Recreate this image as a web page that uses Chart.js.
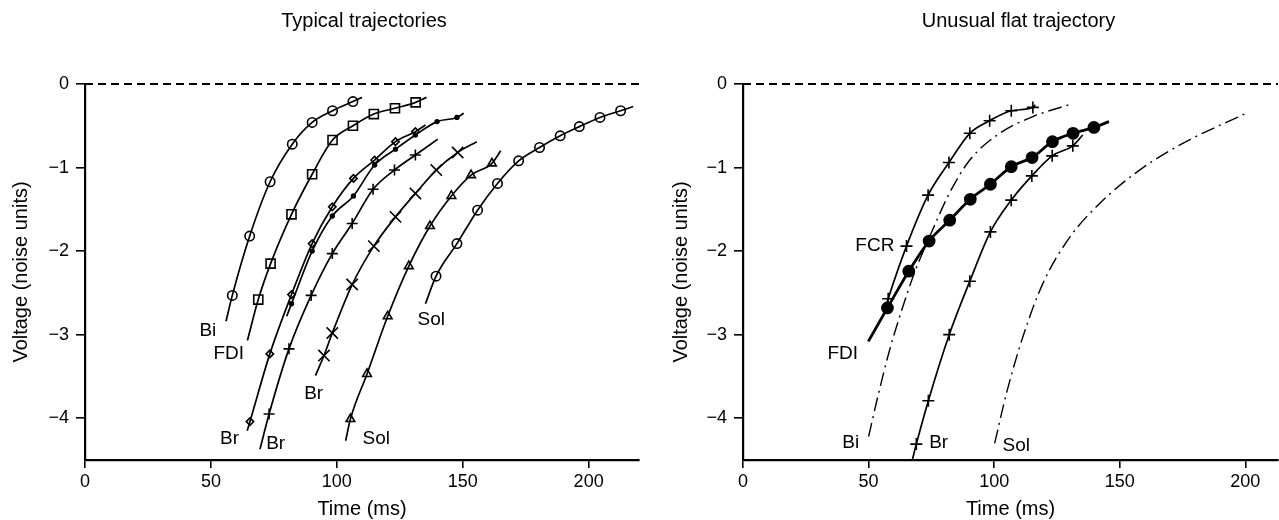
<!DOCTYPE html>
<html><head><meta charset="utf-8">
<script src="https://cdn.jsdelivr.net/npm/chart.js@4/dist/chart.umd.min.js"></script>
<style>
html,body{margin:0;padding:0;background:#fff;}
#wrap{position:relative;width:1279px;height:520px;background:#fff;}
#c1{position:absolute;left:0;top:0;}
#c2{position:absolute;left:640px;top:0;}
</style></head><body>
<div id="wrap"><canvas id="c1" width="640" height="520"></canvas><canvas id="c2" width="639" height="520"></canvas></div>
<script>
// ---------- DATA (first and last entries of each series are the ends of the fitted curve, without a marker) ----------
// Left panel: "Typical trajectories"
const leftTitle = 'Typical trajectories';
const biT   = [56.0, 58.5, 65.4, 73.5, 82.3, 90.2, 98.3, 106.4, 110.0];
const biV   = [-2.84, -2.53, -1.82, -1.17, -0.72, -0.46, -0.32, -0.21, -0.16];
const fdiT  = [64.5, 68.8, 73.7, 82.0, 90.2, 98.3, 106.4, 114.7, 123.1, 131.3, 135.6];
const fdiV  = [-3.07, -2.58, -2.15, -1.56, -1.08, -0.67, -0.50, -0.36, -0.29, -0.22, -0.16];
const brDiaT = [64.4, 65.5, 73.4, 82.0, 90.2, 98.2, 106.6, 115.0, 123.3, 131.2, 135.2];
const brDiaV = [-4.15, -4.04, -3.23, -2.52, -1.91, -1.47, -1.13, -0.91, -0.69, -0.57, -0.49];
const brDotT = [80.1, 82.0, 90.2, 98.2, 106.6, 115.0, 123.3, 131.2, 139.8, 147.7, 150.4];
const brDotV = [-2.78, -2.63, -2.00, -1.58, -1.34, -0.97, -0.78, -0.61, -0.45, -0.40, -0.35];
const brPlusT = [69.5, 73.1, 81.0, 89.8, 98.2, 106.1, 114.4, 122.9, 131.2, 140.1];
const brPlusV = [-4.37, -3.95, -3.17, -2.53, -2.03, -1.67, -1.26, -1.03, -0.85, -0.66];
const brXT  = [91.5, 94.9, 98.2, 106.1, 114.7, 123.3, 131.2, 139.5, 148.0, 155.6];
const brXV  = [-3.49, -3.25, -2.98, -2.40, -1.94, -1.59, -1.31, -1.03, -0.82, -0.69];
const solTriT = [103.5, 105.4, 112.0, 120.2, 128.6, 137.0, 145.5, 153.3, 161.6, 165.1];
const solTriV = [-4.27, -4.01, -3.47, -2.78, -2.18, -1.70, -1.34, -1.09, -0.95, -0.80];
const solCirT = [135.2, 139.4, 147.7, 155.9, 163.8, 172.2, 180.5, 188.7, 196.3, 204.5, 212.7, 217.7];
const solCirV = [-2.63, -2.30, -1.91, -1.51, -1.19, -0.92, -0.76, -0.62, -0.51, -0.40, -0.32, -0.27];
const leftLabelText = ['Bi', 'FDI', 'Br', 'Br', 'Br', 'Sol', 'Sol'];
const leftLabelT    = [48.8, 57.1, 57.4, 75.7, 90.8, 115.7, 137.5];
const leftLabelV    = [-2.95, -3.23, -4.25, -4.31, -3.71, -4.25, -2.82];

// Right panel: "Unusual flat trajectory"
const rightTitle = 'Unusual flat trajectory';
const fcrT  = [56.0, 57.8, 65.1, 73.7, 82.0, 90.3, 98.2, 106.8, 115.4, 116.4];
const fcrV  = [-2.75, -2.57, -1.94, -1.33, -0.94, -0.59, -0.44, -0.32, -0.28, -0.25];
const fdiFlatT = [49.9, 57.5, 66.0, 74.1, 82.3, 90.5, 98.5, 106.8, 115.1, 123.2, 131.4, 139.7, 145.7];
const fdiFlatV = [-3.08, -2.68, -2.24, -1.88, -1.63, -1.38, -1.20, -0.99, -0.88, -0.69, -0.59, -0.52, -0.45];
const brRT  = [67.4, 69.0, 73.8, 82.1, 90.3, 98.5, 106.8, 115.0, 123.1, 131.3, 135.3];
const brRV  = [-4.50, -4.31, -3.79, -3.00, -2.36, -1.77, -1.39, -1.10, -0.86, -0.74, -0.61];
const biRefT = [50.0, 54.0, 58.4, 63.7, 68.5, 73.7, 82.3, 90.3, 102.2, 115.4, 130.7];
const biRefV = [-4.22, -3.70, -3.18, -2.66, -2.24, -1.87, -1.30, -0.91, -0.59, -0.39, -0.24];
const solRefT = [100.2, 104.9, 111.5, 119.5, 130.2, 142.0, 157.9, 175.1, 200.3];
const solRefV = [-4.30, -3.70, -3.02, -2.38, -1.83, -1.43, -1.03, -0.71, -0.35];
const rightLabelText = ['FCR', 'FDI', 'Bi', 'Br', 'Sol'];
const rightLabelT    = [52.5, 39.7, 42.9, 77.9, 108.8];
const rightLabelV    = [-1.94, -3.23, -4.29, -4.29, -4.33];

// Axes
const xTickStep = 50, yTickStep = 1;
const leftXMax = 220, rightXMax = 213, yMin = -4.5, yMax = 0;
const xTitle = 'Time (ms)', yTitle = 'Voltage (noise units)';

// ---------- RENDERING ----------
const FONT = '"Liberation Sans", Arial, Helvetica, sans-serif';
const pts = (T, V) => T.map((t, i) => ({x: t, y: V[i]}));

function curve(T, V, style, r, opts = {}) {
  const n = T.length;
  return Object.assign({
    data: pts(T, V),
    borderColor: '#000',
    borderWidth: 1.7,
    backgroundColor: 'rgba(0,0,0,0)',
    pointStyle: style,
    pointRadius: c => (c.dataIndex === 0 || c.dataIndex === n - 1) ? 0 : r,
    pointBorderColor: '#000',
    pointBorderWidth: 1.6,
    pointBackgroundColor: 'rgba(0,0,0,0)',
    cubicInterpolationMode: 'monotone',
    showLine: true,
    clip: false
  }, opts);
}
function dashDot(T, V) {
  return {data: pts(T, V), borderColor: '#000', borderWidth: 1.4, borderDash: [14, 5, 2, 5],
    pointRadius: 0, cubicInterpolationMode: 'monotone', showLine: true, clip: false};
}
function zeroLine(xmax) {
  return {data: [{x: 0, y: 0}, {x: xmax, y: 0}], borderColor: '#000', borderWidth: 1.8,
    borderDash: [8, 5], pointRadius: 0, showLine: true, clip: false};
}

const labelPlugin = {
  id: 'labels',
  afterDatasetsDraw(chart, args, o) {
    const ctx = chart.ctx, xs = chart.scales.x, ys = chart.scales.y;
    ctx.save();
    ctx.fillStyle = '#000';
    ctx.font = '19px ' + FONT;
    ctx.textAlign = 'center';
    ctx.textBaseline = 'middle';
    o.text.forEach((s, i) => ctx.fillText(s, xs.getPixelForValue(o.t[i]), ys.getPixelForValue(o.v[i])));
    ctx.font = '20px ' + FONT;
    const ca = chart.chartArea;
    ctx.fillText(o.title, (ca.left + ca.right) / 2 + o.titleDx, 21);
    ctx.restore();
  }
};

function makeChart(id, datasets, xmax, yAxisWidth, yTitlePad, labels) {
  const tickFont = {family: FONT, size: 18};
  const titleFont = {family: FONT, size: 20, lineHeight: 1.05};
  return new Chart(document.getElementById(id), {
    type: 'scatter',
    data: {datasets},
    plugins: [labelPlugin],
    options: {
      responsive: false, animation: false, events: [],
      layout: {padding: {left: 0, top: 84, right: 1, bottom: 0}},
      plugins: {legend: {display: false}, tooltip: {enabled: false}, title: {display: false}, labels},
      scales: {
        x: {type: 'linear', min: 0, max: xmax,
          ticks: {stepSize: xTickStep, includeBounds: false, color: '#000', font: tickFont, padding: 3, maxRotation: 0},
          grid: {display: true, drawOnChartArea: false, drawTicks: true, tickLength: 8, color: '#000', lineWidth: 1.6},
          border: {display: true, color: '#000', width: 2.2},
          title: {display: true, text: xTitle, color: '#000', font: titleFont, padding: {top: 0, bottom: 0}},
          afterFit: s => { s.height = 60; }
        },
        y: {type: 'linear', min: yMin, max: yMax,
          ticks: {stepSize: yTickStep, includeBounds: false, color: '#000', font: tickFont, padding: 7,
            callback: v => v < 0 ? '\u2212' + Math.abs(v) : String(v)},
          grid: {display: true, drawOnChartArea: false, drawTicks: true, tickLength: 9, color: '#000', lineWidth: 1.6},
          border: {display: true, color: '#000', width: 2.2},
          title: {display: true, text: yTitle, color: '#000', font: titleFont, padding: {top: yTitlePad, bottom: 0}},
          afterFit: s => { s.width = yAxisWidth; }
        }
      }
    }
  });
}

makeChart('c1', [
  zeroLine(leftXMax),
  curve(biT, biV, 'circle', 4.7),
  curve(fdiT, fdiV, 'rect', 6.4),
  curve(brDiaT, brDiaV, 'rectRot', 3.7),
  curve(brDotT, brDotV, 'circle', 1.9, {pointBackgroundColor: '#000'}),
  curve(brPlusT, brPlusV, 'cross', 5.5),
  curve(brXT, brXV, 'crossRot', 8),
  curve(solTriT, solTriV, 'triangle', 5),
  curve(solCirT, solCirV, 'circle', 4.7)
], leftXMax, 85, 11, {text: leftLabelText, t: leftLabelT, v: leftLabelV, title: leftTitle, titleDx: 2});

makeChart('c2', [
  zeroLine(rightXMax),
  dashDot(biRefT, biRefV),
  dashDot(solRefT, solRefV),
  curve(fcrT, fcrV, 'cross', 6),
  curve(brRT, brRV, 'cross', 6),
  curve(fdiFlatT, fdiFlatV, 'circle', 5.6, {borderWidth: 2.8, pointBackgroundColor: '#000'})
], rightXMax, 103, 31, {text: rightLabelText, t: rightLabelT, v: rightLabelV, title: rightTitle, titleDx: 8});
</script>
</body></html>
